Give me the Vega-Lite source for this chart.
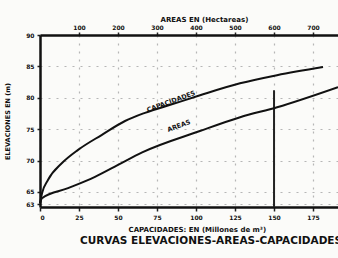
{
  "$schema": "https://vega.github.io/schema/vega-lite/v6.json",
  "width": 298,
  "height": 172,
  "autosize": "none",
  "padding": {"left": 40, "top": 35, "right": 0, "bottom": 51},
  "background": "#fbfbf9",
  "config": {
    "view": {"stroke": null},
    "font": "DejaVu Sans",
    "axis": {
      "labelFont": "DejaVu Sans",
      "labelFontWeight": "bold",
      "labelFontSize": 6,
      "labelColor": "#111",
      "titleFont": "DejaVu Sans",
      "titleFontWeight": "bold",
      "titleFontSize": 7,
      "titleColor": "#111",
      "domainColor": "#111",
      "domainWidth": 2.5,
      "tickColor": "#222",
      "tickWidth": 1.5,
      "tickSize": 4,
      "gridColor": "#888",
      "gridDash": [2, 6],
      "gridOpacity": 0.6,
      "gridWidth": 1.2
    }
  },
  "title": {
    "text": "CURVAS ELEVACIONES-AREAS-CAPACIDADES",
    "orient": "bottom",
    "anchor": "start",
    "dx": 76,
    "offset": 4,
    "font": "DejaVu Sans",
    "fontSize": 10.5,
    "fontWeight": "bold",
    "color": "#111"
  },
  "encoding": {
    "y": {
      "field": "elev", "type": "quantitative",
      "scale": {"domain": [62.6, 90], "nice": false, "zero": false},
      "axis": {
        "values": [63, 65, 70, 75, 80, 85, 90],
        "title": "ELEVACIONES EN (m)",
        "titleX": -30,
        "titleFontSize": 6.5,
        "labelPadding": 3,
        "tickSize": 3,
        "grid": true
      }
    }
  },
  "layer": [
    {
      "layer": [
        {
          "data": {"values": [
            {"cap": 0, "elev": 63.2},
            {"cap": 1.3, "elev": 64.8},
            {"cap": 5.1, "elev": 66.9},
            {"cap": 14.1, "elev": 69.6},
            {"cap": 24.4, "elev": 71.7},
            {"cap": 39.7, "elev": 74.1},
            {"cap": 54.5, "elev": 76.3},
            {"cap": 67.3, "elev": 77.6},
            {"cap": 85, "elev": 79.0},
            {"cap": 102.6, "elev": 80.4},
            {"cap": 128.2, "elev": 82.3},
            {"cap": 151.9, "elev": 83.6},
            {"cap": 181.4, "elev": 84.9}
          ]},
          "mark": {"type": "line", "color": "#111", "strokeWidth": 2, "interpolate": "monotone"},
          "encoding": {
            "x": {
              "field": "cap", "type": "quantitative",
              "scale": {"domain": [0, 191], "nice": false, "zero": false},
              "axis": {
                "orient": "bottom",
                "values": [0, 25, 50, 75, 100, 125, 150, 175],
                "title": "CAPACIDADES: EN (Millones de m³)",
                "titleX": 88,
                "titleY": 24,
                "titleAlign": "left",
                "titleBaseline": "alphabetic",
                "labelPadding": 3,
                "grid": true
              }
            }
          }
        },
        {
          "data": {"values": [{"cap": 150, "elev": 81.2, "bottom": 62.6}]},
          "mark": {"type": "rule", "color": "#222", "strokeWidth": 2},
          "encoding": {
            "x": {"field": "cap", "type": "quantitative"},
            "y2": {"field": "bottom"}
          }
        },
        {
          "data": {"values": [
            {"cap": 84, "elev": 79.4, "label": "CAPACIDADES"},
            {"cap": 89, "elev": 75.5, "label": "AREAS"}
          ]},
          "mark": {"type": "text", "angle": -20, "font": "DejaVu Sans", "fontSize": 6.5, "fontWeight": "bold", "color": "#111"},
          "encoding": {
            "x": {"field": "cap", "type": "quantitative"},
            "text": {"field": "label"}
          }
        }
      ]
    },
    {
      "data": {"values": [
        {"area": 0, "elev": 63.2},
        {"area": 5, "elev": 64.0},
        {"area": 72, "elev": 65.6},
        {"area": 141, "elev": 67.4},
        {"area": 200, "elev": 69.3},
        {"area": 262, "elev": 71.3},
        {"area": 410, "elev": 74.7},
        {"area": 513, "elev": 76.9},
        {"area": 608, "elev": 78.5},
        {"area": 764, "elev": 81.7}
      ]},
      "mark": {"type": "line", "color": "#111", "strokeWidth": 2, "interpolate": "monotone"},
      "encoding": {
        "x": {
          "field": "area", "type": "quantitative",
          "scale": {"domain": [0, 764], "nice": false, "zero": false},
          "axis": {
            "orient": "top",
            "values": [100, 200, 300, 400, 500, 600, 700],
            "title": "AREAS  EN  (Hectareas)",
            "titleX": 120,
            "titleY": -16,
            "titleAlign": "left",
            "titleBaseline": "middle",
            "labelPadding": 2,
            "tickSize": 3,
            "grid": false
          }
        }
      }
    }
  ],
  "resolve": {"scale": {"x": "independent"}}
}
